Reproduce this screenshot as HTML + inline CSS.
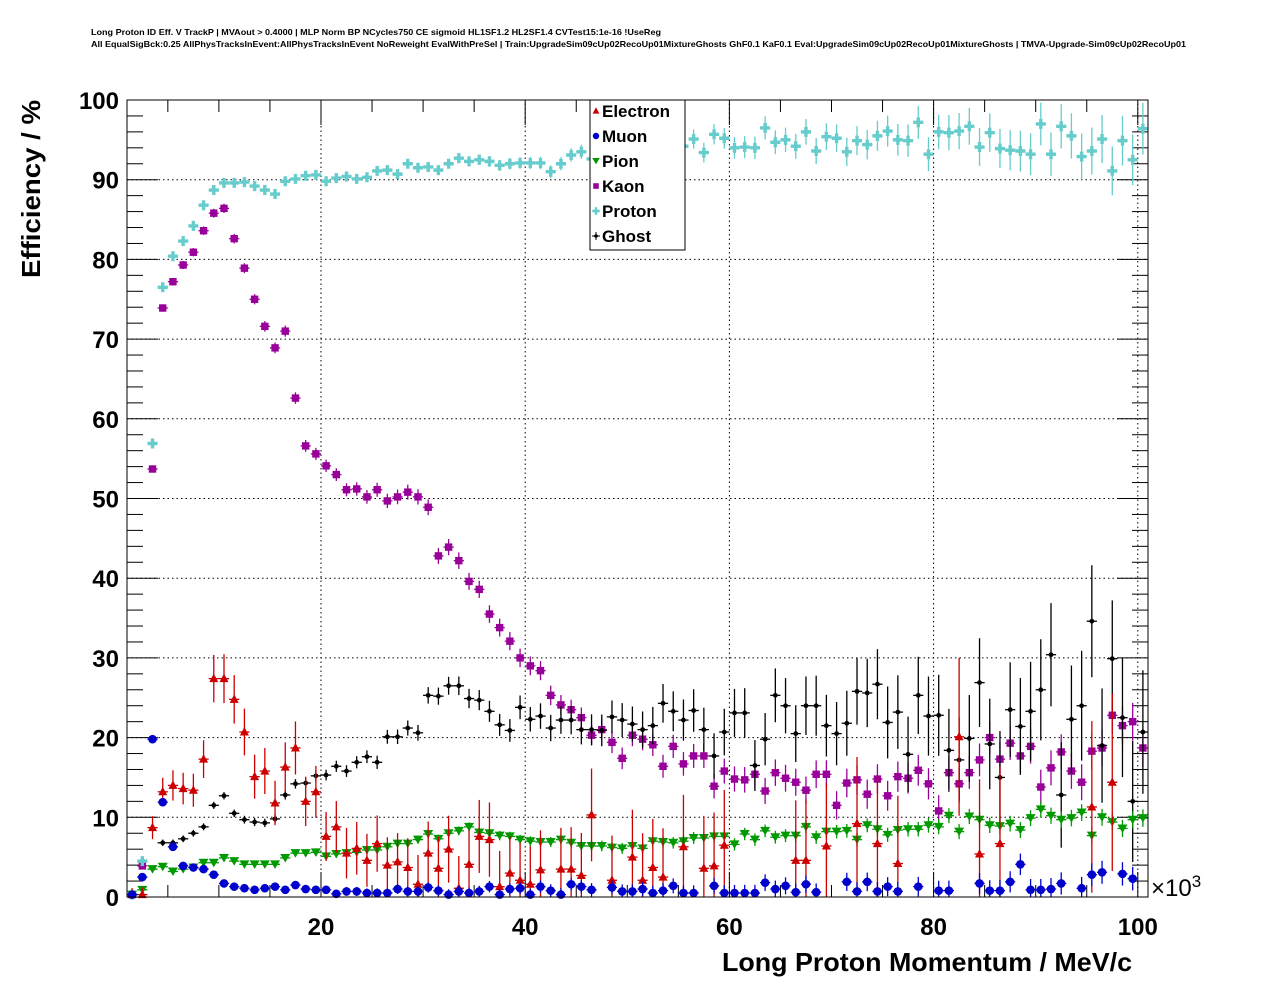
<!DOCTYPE html>
<html><head><meta charset="utf-8"><style>
body{margin:0;background:#fff;}
svg{display:block;font-family:"Liberation Sans",Arial,sans-serif;}
</style></head><body>
<svg id="chart" width="1276" height="996" viewBox="0 0 1276 996">
<rect width="1276" height="996" fill="#fff"/>
<text x="91" y="35" font-size="8.5" font-weight="bold" textLength="570" lengthAdjust="spacingAndGlyphs">Long Proton ID Eff. V TrackP | MVAout &gt; 0.4000 | MLP Norm BP NCycles750 CE sigmoid HL1SF1.2 HL2SF1.4 CVTest15:1e-16 !UseReg</text>
<text x="91" y="47" font-size="8.5" font-weight="bold" textLength="1095" lengthAdjust="spacingAndGlyphs">All EqualSigBck:0.25 AllPhysTracksInEvent:AllPhysTracksInEvent NoReweight EvalWithPreSel | Train:UpgradeSim09cUp02RecoUp01MixtureGhosts GhF0.1 KaF0.1 Eval:UpgradeSim09cUp02RecoUp01MixtureGhosts | TMVA-Upgrade-Sim09cUp02RecoUp01</text>
<g id="grid"></g>
<g id="axes"></g>
<g id="marks"></g>
<rect x="127" y="100" width="1021" height="797" fill="none" stroke="#000" stroke-width="1"/>
<text x="40" y="189" font-size="26" font-weight="bold" text-anchor="middle" textLength="178" lengthAdjust="spacingAndGlyphs" transform="rotate(-90 40 189)">Efficiency / %</text>
<text x="722" y="971" font-size="26" font-weight="bold" textLength="410" lengthAdjust="spacingAndGlyphs">Long Proton Momentum / MeV/c</text>
<text x="1151" y="896" font-size="24">×10<tspan font-size="17" dy="-9">3</tspan></text>
<g id="legend">
<rect x="590" y="100" width="95" height="150" fill="#fff" stroke="#000" stroke-width="1"/>
</g>
</svg>
<script>
const NS='http://www.w3.org/2000/svg';
const categories=[];for(let i=0;i<100;i++)categories.push(1.5+i);
const electron=[0.3,0.3,8.7,13.2,14.0,13.6,13.4,17.3,27.4,27.4,24.8,20.7,15.1,15.8,11.8,16.3,18.7,12.0,13.2,7.6,8.8,5.5,6.1,4.6,6.7,4.0,4.4,3.7,1.6,5.5,3.6,6.0,1.1,4.1,7.6,7.2,1.3,3.0,2.1,1.6,3.4,null,3.5,3.5,2.7,10.3,null,2.1,null,5.0,2.1,3.7,2.5,null,6.3,null,3.6,3.9,6.5,null,null,null,null,null,null,4.6,4.6,null,6.4,null,null,9.2,null,6.7,null,4.2,null,null,null,null,null,20.1,null,5.4,null,6.7,null,null,null,null,null,null,null,null,11.3,null,14.4,null,null,null];
const muon=[0.3,2.5,19.8,11.9,6.3,3.9,3.7,3.5,2.8,1.7,1.3,1.1,0.9,1.1,1.3,0.9,1.5,1.0,0.9,0.9,0.4,0.7,0.7,0.5,0.5,0.5,1.0,0.7,0.7,1.2,0.8,0.3,0.7,0.5,0.7,1.3,0.3,1.0,1.1,0.3,1.3,0.8,0.3,1.6,1.3,0.9,null,1.2,0.7,0.7,1.0,0.5,0.8,1.4,0.5,0.5,null,1.4,0.5,0.5,0.5,0.5,1.8,1.0,1.4,0.6,1.6,0.6,null,null,1.9,0.7,1.9,0.7,1.3,0.7,null,1.3,null,0.8,0.8,null,null,1.7,0.8,0.8,1.9,4.1,0.9,0.9,1.0,1.7,null,1.1,2.8,3.1,null,2.9,2.3,null];
const pion=[0.3,0.9,3.5,3.8,3.2,3.5,3.7,4.3,4.3,4.9,4.5,4.1,4.1,4.1,4.1,4.9,5.5,5.5,5.6,5.1,5.4,5.5,5.6,5.9,5.9,6.3,6.7,6.7,7.2,7.9,7.3,8.0,8.3,8.8,8.1,8.0,7.7,7.6,7.2,7.0,6.9,6.9,7.2,6.8,6.4,6.4,6.4,6.2,6.1,6.4,6.1,7.0,6.9,6.8,7.0,7.4,7.4,7.6,7.6,6.6,7.9,7.2,8.3,7.5,7.7,7.7,8.8,7.5,8.2,8.2,8.3,7.2,9.0,8.5,7.8,8.4,8.5,8.5,9.0,8.8,10.2,8.2,10.1,9.7,9.0,8.9,9.2,8.4,9.9,11.0,10.2,9.7,9.9,10.6,7.7,10.0,9.4,8.6,9.7,9.9];
const kaon=[0.3,3.9,53.7,73.9,77.2,79.3,80.9,83.6,85.8,86.4,82.6,78.9,75.0,71.6,68.9,71.0,62.6,56.6,55.6,54.1,53.0,51.1,51.2,50.2,51.1,49.7,50.2,50.8,50.2,48.9,42.8,43.9,42.2,39.6,38.6,35.5,33.8,32.1,30.0,29.0,28.4,25.3,24.1,23.5,22.5,20.3,21.0,19.4,17.4,20.3,19.8,19.1,16.4,18.9,16.7,17.7,17.7,13.9,15.8,14.8,14.7,15.4,13.3,15.6,14.9,14.4,13.4,15.4,15.4,11.5,14.3,14.7,12.9,14.8,12.7,15.1,14.9,15.9,14.2,10.8,15.6,14.2,15.6,17.2,20.0,17.3,19.3,17.7,18.9,13.8,16.2,18.2,15.8,14.4,18.3,18.7,22.8,21.5,22.0,18.7];
const proton=[0.3,4.5,56.9,76.5,80.4,82.3,84.2,86.8,88.7,89.6,89.6,89.7,89.2,88.7,88.2,89.8,90.1,90.5,90.6,89.8,90.2,90.4,90.1,90.3,91.1,91.2,90.7,92.0,91.5,91.6,91.2,92.0,92.7,92.3,92.5,92.3,91.8,92.0,92.1,92.1,92.1,91.0,92.0,93.1,93.5,92.6,93.8,94.2,93.5,94.6,93.9,94.8,94.0,94.5,94.2,95.1,93.4,95.7,95.2,94.0,94.1,94.0,96.5,94.7,95.0,94.2,96.0,93.6,95.4,95.2,93.5,94.9,94.4,95.5,96.1,95.0,94.9,97.2,93.2,96.0,95.9,96.1,96.7,94.1,95.9,93.9,93.7,93.6,93.2,97.0,93.2,96.7,95.5,92.9,93.6,95.1,91.1,94.9,92.5,96.4];
const ghost=[null,null,null,6.8,6.8,7.3,8.0,8.8,11.5,12.7,10.5,9.7,9.4,9.3,9.8,12.8,14.2,14.3,15.2,15.3,16.4,15.8,16.9,17.6,16.9,20.1,20.1,21.2,20.6,25.3,25.2,26.5,26.5,24.9,24.7,23.3,21.6,20.9,23.8,22.3,22.7,21.2,22.2,22.2,21.0,21.0,20.9,22.6,22.2,21.7,21.0,21.5,24.3,23.3,22.2,23.4,21.0,17.7,20.7,23.1,23.1,16.5,19.8,25.3,24.0,20.5,24.0,24.0,21.5,20.5,21.8,25.8,25.6,26.7,21.9,23.2,17.9,25.3,22.7,22.8,18.4,17.2,19.9,26.9,19.2,15.0,23.5,21.4,23.3,26.0,30.4,12.8,22.3,24.0,34.6,19.0,29.9,22.5,12.0,20.7];
const yTicks=[0,10,20,30,40,50,60,70,80,90,100];
const xTicks=[20,40,60,80,100];
const legendLabels=['Electron','Muon','Pion','Kaon','Proton','Ghost'];

const X0=127,X1=1148,XMIN=1,XMAX=101,Y0=897,Y1=100,YMIN=0,YMAX=100;
function xs(v){return X0+(v-XMIN)*(X1-X0)/(XMAX-XMIN);}
function ys(v){return Y0-(v-YMIN)*(Y0-Y1)/(YMAX-YMIN);}
function mk(tag,attrs,parent){const e=document.createElementNS(NS,tag);for(const k in attrs)e.setAttribute(k,attrs[k]);parent.appendChild(e);return e;}
const grid=document.getElementById('grid'),axes=document.getElementById('axes'),marks=document.getElementById('marks');

yTicks.forEach(t=>{if(t===0||t===100)return;const l=mk('line',{x1:X0,x2:X1,y1:ys(t),y2:ys(t),stroke:'#000','stroke-width':1,'stroke-dasharray':'1.5,3'},grid);

});
xTicks.forEach(t=>{if(t>=XMAX)return;const l=mk('line',{x1:xs(t),x2:xs(t),y1:Y0,y2:Y1,stroke:'#000','stroke-width':1,'stroke-dasharray':'1.5,3'},grid);

});
for(let v=0;v<=100;v+=2){const maj=v%10===0;const L=maj?31:16;
 mk('line',{x1:X0,x2:X0+L,y1:ys(v),y2:ys(v),stroke:'#000'},axes);
 mk('line',{x1:X1,x2:X1-L,y1:ys(v),y2:ys(v),stroke:'#000'},axes);}
yTicks.forEach(t=>{const tx=mk('text',{x:119,y:ys(t)+9,'font-size':24,'font-weight':'bold','text-anchor':'end'},axes);tx.textContent=t;

});
for(let v=5;v<XMAX;v+=5){const maj=v%20===0;const L=maj?25:12;
 mk('line',{x1:xs(v),x2:xs(v),y1:Y0,y2:Y0-L,stroke:'#000'},axes);
 mk('line',{x1:xs(v),x2:xs(v),y1:Y1,y2:Y1+L,stroke:'#000'},axes);}
xTicks.forEach(t=>{const tx=mk('text',{x:xs(t),y:935,'font-size':24,'font-weight':'bold','text-anchor':'middle'},axes);tx.textContent=t;

});

function marker(kind,cx,cy,parent,color){
 if(kind==='tri')return mk('polygon',{points:`${cx},${cy-5} ${cx+4.5},${cy+3.5} ${cx-4.5},${cy+3.5}`,fill:color},parent);
 if(kind==='dtri')return mk('polygon',{points:`${cx-5},${cy-4} ${cx+5},${cy-4} ${cx},${cy+4.5}`,fill:color},parent);
 if(kind==='circ')return mk('circle',{cx:cx,cy:cy,r:4.3,fill:color},parent);
 if(kind==='dot')return mk('circle',{cx:cx,cy:cy,r:2.4,fill:color},parent);
 if(kind==='sq')return mk('rect',{x:cx-3.7,y:cy-3.7,width:7.4,height:7.4,fill:color},parent);
 if(kind==='plus')return mk('path',{d:`M${cx-5},${cy-1.7}h3.3v-3.3h3.4v3.3h3.3v3.4h-3.3v3.3h-3.4v-3.3h-3.3z`,fill:color},parent);
}
function errOf(name,i,v){
 if(name==='electron')return 0.8+0.1*i+0.05*v;
 if(name==='ghost')return 0.4+Math.pow(i/100,2)*7.5;
 if(name==='muon')return 0.3+0.012*i;
 if(name==='pion')return 0.3+0.008*i;
 if(name==='kaon')return 0.4+0.02*i;
 return 0.3+Math.pow(i/100,2)*3;
}
const series=[
 {name:'kaon',data:kaon,color:'#990099',kind:'sq'},
 {name:'proton',data:proton,color:'#66cccc',kind:'plus'},
 {name:'ghost',data:ghost,color:'#000000',kind:'dot'},
 {name:'pion',data:pion,color:'#009900',kind:'dtri'},
 {name:'electron',data:electron,color:'#cc0000',kind:'tri'},
 {name:'muon',data:muon,color:'#0000cc',kind:'circ'}
];
series.forEach(s=>{
 const g=mk('g',{},marks);
 
 
 s.data.forEach((v,i)=>{
  if(v===null)return;
  const c=categories[i],cx=xs(c),cy=ys(v),e=errOf(s.name,i,v);
  const p=mk('g',{},g);
  
  
  mk('line',{x1:xs(c-0.5),x2:xs(c+0.5),y1:cy,y2:cy,stroke:s.color,'stroke-width':1.3},p);
  mk('line',{x1:cx,x2:cx,y1:ys(Math.max(0,v-e)),y2:ys(Math.min(100,v+e)),stroke:s.color,'stroke-width':1.3},p);
  marker(s.kind,cx,cy,p,s.color);
 });
});
const leg=document.getElementById('legend');
const legKinds=['tri','circ','dtri','sq','plus','dot'];
const legColors=['#cc0000','#0000cc','#009900','#990099','#66cccc','#000000'];
legendLabels.forEach((lab,k)=>{
 const y=111+25*k;
 const g=mk('g',{},leg);
 
 
 if(legKinds[k]==='dot'){mk('line',{x1:592,x2:600,y1:y,y2:y,stroke:'#000'},g);mk('line',{x1:596,x2:596,y1:y-4,y2:y+4,stroke:'#000'},g);}
 marker(legKinds[k],596,y,g,legColors[k]).setAttribute('transform',`translate(${596*0.25},${y*0.25}) scale(0.75)`);
 const t=mk('text',{x:602,y:y+6,'font-size':17,'font-weight':'bold'},g);t.textContent=lab;
});
</script>
</body></html>
